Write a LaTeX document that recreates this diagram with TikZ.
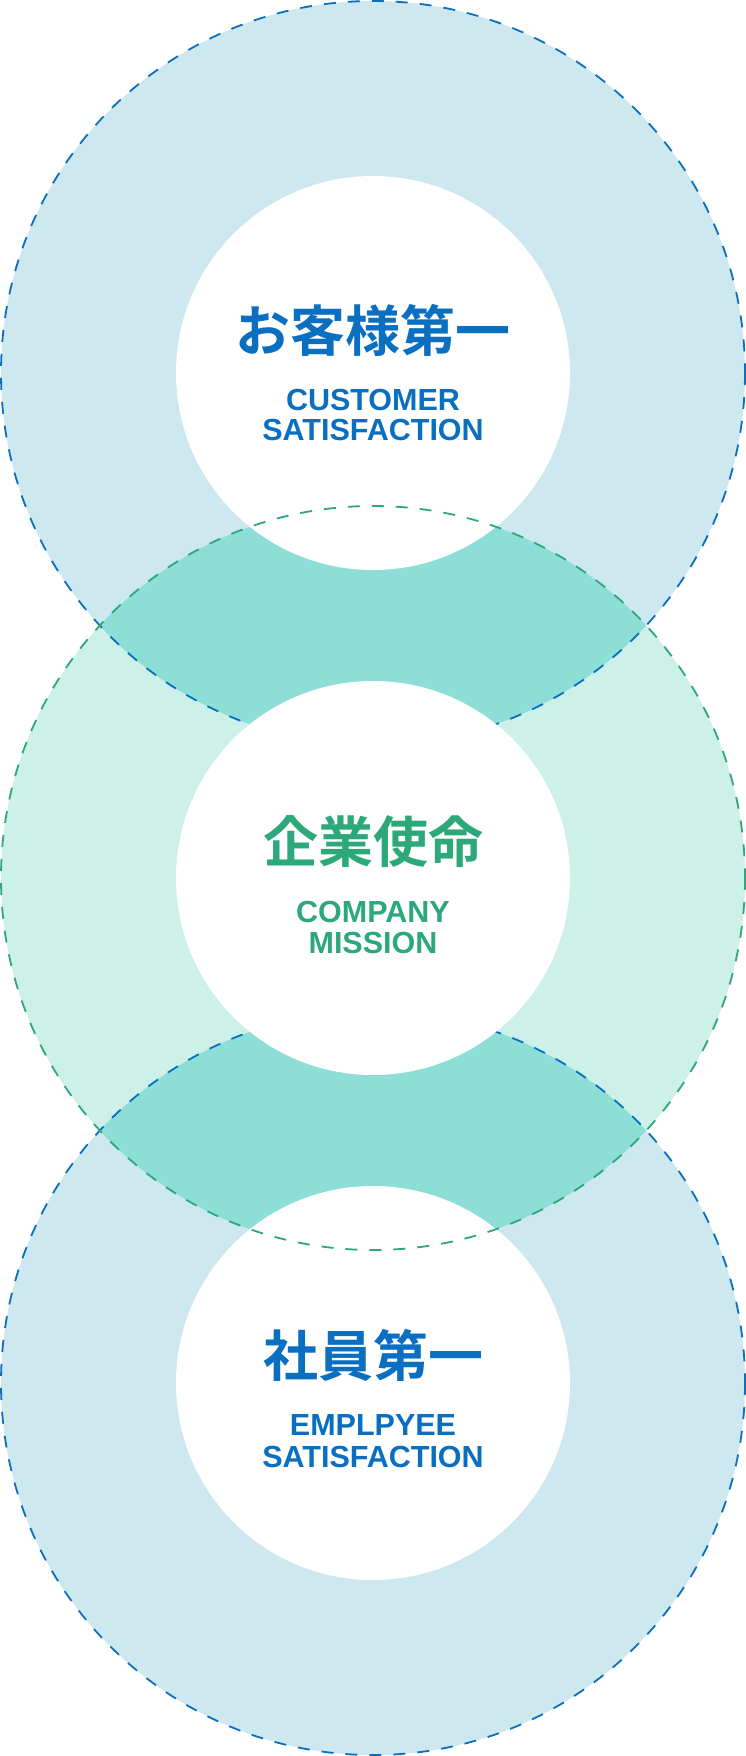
\documentclass[tikz,border=0pt]{standalone}
\usepackage{fontspec}
\setmainfont{Liberation Sans}
\newfontfamily\cjkfont{Noto Sans CJK JP Bold}
\definecolor{ringblue}{HTML}{CEE8EF}
\definecolor{ringmint}{HTML}{CDF1E8}
\definecolor{ringteal}{HTML}{8EDED8}
\definecolor{lineblue}{HTML}{0A6FC0}
\definecolor{linegreen}{HTML}{2CA87B}

\begin{document}
\begin{tikzpicture}[x=1pt, y=-1pt, line cap=butt,
    ring/.style={line width=1.8pt, dash pattern=on 12pt off 12pt},
    jp/.style={anchor=base, inner sep=0pt, font=\cjkfont\fontsize{55}{55}\selectfont},
    en/.style={anchor=base, inner sep=0pt, font=\bfseries\fontsize{30.5}{31}\selectfont}]
    \useasboundingbox (0,0) rectangle (746,1756);
    \fill[ringblue] (373,373) circle (372);
    \fill[ringblue] (373,1383) circle (372);
    \fill[ringmint] (373,878) circle (372);
    \begin{scope}
    \clip (373,373) circle (372);
    \fill[ringteal] (373,878) circle (372);
    \end{scope}
    \begin{scope}
    \clip (373,1383) circle (372);
    \fill[ringteal] (373,878) circle (372);
    \end{scope}
    \draw[ring, lineblue] (373,373) circle (372);
    \draw[ring, lineblue] (373,1383) circle (372);
    \fill[white] (373,373) circle (197);
    \fill[white] (373,878) circle (197);
    \fill[white] (373,1383) circle (197);
    \draw[ring, linegreen] (373,878) circle (372);
    \draw[lineblue](373,351) node[jp] (j0) {お客様第一};
    \draw[lineblue](373,410) node[en] (e0) {CUSTOMER};
    \draw[lineblue](373,440) node[en] (e1) {SATISFACTION};
    \draw[linegreen](373,862) node[jp] (j1) {企業使命};
    \draw[linegreen](373,922) node[en] (e2) {COMPANY};
    \draw[linegreen](373,953) node[en] (e3) {MISSION};
    \draw[lineblue](373,1376) node[jp] (j2) {社員第一};
    \draw[lineblue](373,1435) node[en] (e4) {EMPLPYEE};
    \draw[lineblue](373,1467) node[en] (e5) {SATISFACTION};
\end{tikzpicture}
\end{document}
